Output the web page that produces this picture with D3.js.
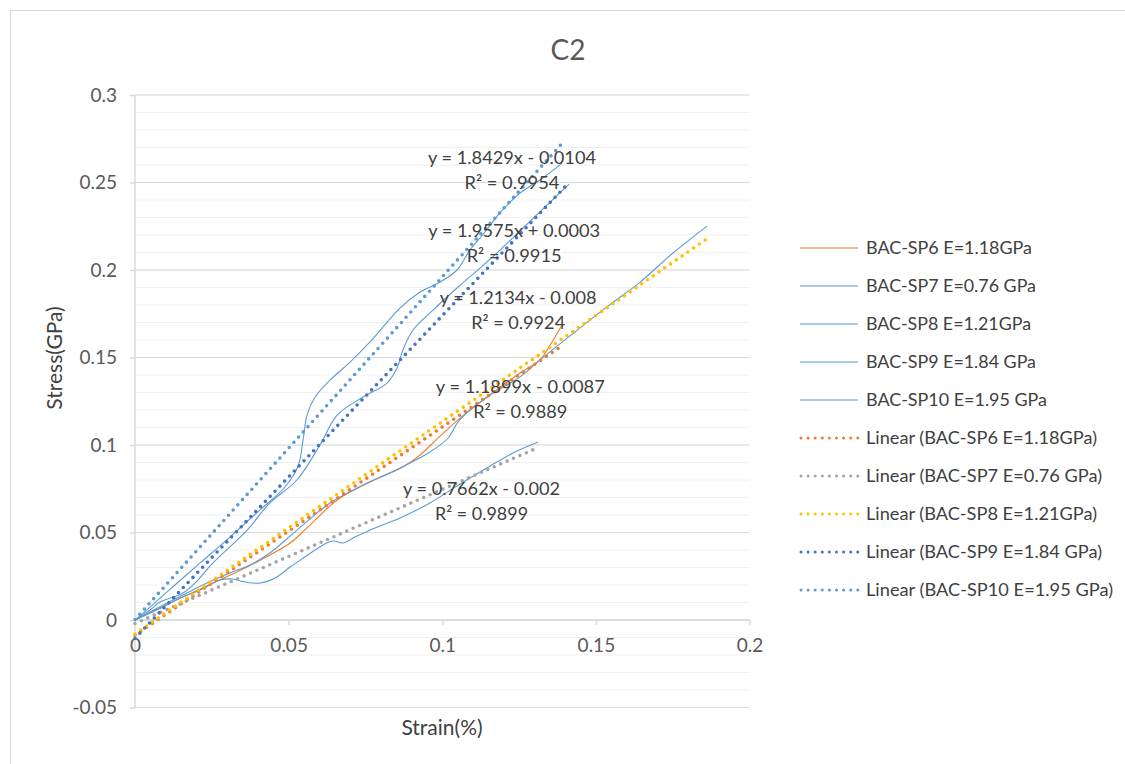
<!DOCTYPE html>
<html><head><meta charset="utf-8">
<script src="https://cdn.jsdelivr.net/npm/d3@7"></script>
<style>
html,body{margin:0;padding:0;background:#fff;}
svg text{font-family:Lato,"Open Sans",sans-serif;font-variant-numeric:tabular-nums;}
</style></head>
<body><svg id="c" width="1125" height="764"></svg>
<script>
// ---------- data ----------
const seriesNames = ["BAC-SP6 E=1.18GPa","BAC-SP7 E=0.76 GPa","BAC-SP8 E=1.21GPa","BAC-SP9 E=1.84 GPa","BAC-SP10 E=1.95 GPa"];
const sp6 = [[0,0],[0.0081,0.0069],[0.0163,0.0137],[0.0254,0.0211],[0.0365,0.0303],[0.0439,0.0371],[0.0505,0.0440],[0.0560,0.0526],[0.0658,0.0686],[0.0765,0.0789],[0.0872,0.0874],[0.0928,0.0943],[0.0993,0.1051],[0.1058,0.1154],[0.1146,0.1274],[0.1253,0.1411],[0.1318,0.1486],[0.1351,0.1571],[0.1390,0.1686]];
const sp7 = [[0,0],[0.0049,0.0040],[0.0091,0.0074],[0.0146,0.0126],[0.0212,0.0171],[0.0277,0.0229],[0.0316,0.0234],[0.0358,0.0217],[0.0407,0.0211],[0.0456,0.0240],[0.0505,0.0303],[0.0553,0.0360],[0.0612,0.0429],[0.0645,0.0451],[0.0677,0.0440],[0.0716,0.0474],[0.0781,0.0526],[0.0863,0.0583],[0.0960,0.0669],[0.1058,0.0777],[0.1156,0.0880],[0.1237,0.0960],[0.1312,0.1017]];
const sp8 = [[0,0],[0.0049,0.0046],[0.0098,0.0091],[0.0163,0.0149],[0.0234,0.0211],[0.0309,0.0269],[0.0374,0.0314],[0.0439,0.0383],[0.0527,0.0514],[0.0635,0.0669],[0.0742,0.0771],[0.0863,0.0869],[0.0960,0.0960],[0.1019,0.1040],[0.1051,0.1131],[0.1090,0.1200],[0.1156,0.1286],[0.1253,0.1389],[0.1318,0.1486],[0.1432,0.1646],[0.1536,0.1789],[0.1644,0.1931],[0.1751,0.2097],[0.1862,0.2251]];
const sp9 = [[0,0],[0.0049,0.0057],[0.0081,0.0103],[0.0124,0.0131],[0.0156,0.0154],[0.0195,0.0211],[0.0254,0.0326],[0.0365,0.0514],[0.0439,0.0669],[0.0527,0.0800],[0.0602,0.1000],[0.0658,0.1171],[0.0742,0.1274],[0.0820,0.1354],[0.0853,0.1440],[0.0872,0.1543],[0.0905,0.1657],[0.0970,0.1771],[0.1048,0.1897],[0.1123,0.2011],[0.1188,0.2114],[0.1263,0.2240],[0.1341,0.2371],[0.1413,0.2491]];
const sp10 = [[0,0],[0.0049,0.0074],[0.0130,0.0200],[0.0212,0.0326],[0.0309,0.0474],[0.0407,0.0629],[0.0488,0.0760],[0.0531,0.0880],[0.0547,0.1029],[0.0560,0.1171],[0.0586,0.1274],[0.0635,0.1371],[0.0700,0.1474],[0.0765,0.1589],[0.0863,0.1783],[0.0928,0.1874],[0.0993,0.1931],[0.1048,0.2000],[0.1090,0.2114],[0.1139,0.2217],[0.1188,0.2326],[0.1253,0.2440],[0.1318,0.2514],[0.1390,0.2611]];
const trendSlopes = [1.1899, 0.7662, 1.2134, 1.8429, 1.9575];
const trendIntercepts = [-0.0087, -0.002, -0.008, -0.0104, 0.0003];
const trendEquations = ["y = 1.1899x - 0.0087","y = 0.7662x - 0.002","y = 1.2134x - 0.008","y = 1.8429x - 0.0104","y = 1.9575x + 0.0003"];
const trendR2 = ["R² = 0.9889","R² = 0.9899","R² = 0.9924","R² = 0.9954","R² = 0.9915"];
const xTicks = [0, 0.05, 0.1, 0.15, 0.2];
const yTicks = [-0.05, 0, 0.05, 0.1, 0.15, 0.2, 0.25, 0.3];
const xTickLabels = ["0","0.05","0.1","0.15","0.2"];
const yTickLabels = ["-0.05","0","0.05","0.1","0.15","0.2","0.25","0.3"];

// ---------- layout / style ----------
const rawColors = ["#ED7D31","#5B9BD5","#5B9BD5","#5B9BD5","#5B9BD5"];
const trendColors = ["#ED7D31","#A5A5A5","#FFC000","#4472C4","#5B9BD5"];
// equation label centres (data coords) and text widths (px)
const labelPos = [[0.1254,0.1334],[0.1128,0.0748],[0.1247,0.1840],[0.1227,0.2643],[0.1234,0.2223]];
const eqWidths = [169,157,157,168,172];
const r2Widths = [94,93,94,95,95];
const legendWidths = [166,170,165,170,181,231,236,231,236,247];

const svg = d3.select("#c");
svg.append("rect").attr("x",10.5).attr("y",10.5).attr("width",1130).attr("height",770)
  .attr("fill","#fff").attr("stroke","#d9d9d9");

const x = d3.scaleLinear().domain([0,0.2]).range([135,749.5]);
const y = d3.scaleLinear().domain([-0.05,0.3]).range([707.5,95]);

// gridlines
const minor = d3.range(-0.05,0.3001,0.01).map(v=>+v.toFixed(2));
svg.append("g").selectAll("line").data(minor).join("line")
  .attr("x1",x(0)).attr("x2",x(0.2)).attr("y1",d=>y(d)).attr("y2",d=>y(d))
  .attr("stroke","#f0f0f0").attr("stroke-width",1);
svg.append("g").selectAll("line").data(yTicks).join("line")
  .attr("x1",x(0)).attr("x2",x(0.2)).attr("y1",d=>y(d)).attr("y2",d=>y(d))
  .attr("stroke","#d9d9d9").attr("stroke-width",1.2);

// axes
const yAxis = d3.axisLeft(y).tickValues(yTicks).tickFormat((d,i)=>yTickLabels[i]).tickSize(5).tickPadding(13);
const gy = svg.append("g").attr("transform",`translate(${x(0)},0)`).call(yAxis);
const xAxis = d3.axisBottom(x).tickValues(xTicks).tickFormat((d,i)=>xTickLabels[i]).tickSize(5).tickPadding(14);
const gx = svg.append("g").attr("transform",`translate(0,${y(0)})`).call(xAxis);
[gx,gy].forEach(g=>{
  g.select(".domain").attr("stroke","#d9d9d9").attr("stroke-width",1.5);
  g.selectAll(".tick line").attr("stroke","#d9d9d9").attr("stroke-width",1.5);
  g.selectAll("text").attr("fill","#595959").style("font-size","19px").style("font-family","Lato");
});
gy.select(".domain").attr("d",`M0,${y(-0.05)}V${y(0.3)}`);
gx.select(".domain").attr("d",`M${x(0)},0H${x(0.2)}`);

// raw series
const line = d3.line().x(d=>x(d[0])).y(d=>y(d[1])).curve(d3.curveCatmullRom.alpha(0.5));
const raw = [sp6,sp7,sp8,sp9,sp10];
svg.append("g").selectAll("path").data(raw).join("path")
  .attr("d",line).attr("fill","none").attr("stroke",(d,i)=>rawColors[i]).attr("stroke-width",1.1);

// trend lines
svg.append("g").selectAll("line").data(raw).join("line")
  .attr("x1",d=>x(d3.min(d,p=>p[0])))
  .attr("x2",d=>x(d3.max(d,p=>p[0])))
  .attr("y1",(d,i)=>y(trendSlopes[i]*d3.min(d,p=>p[0])+trendIntercepts[i]))
  .attr("y2",(d,i)=>y(trendSlopes[i]*d3.max(d,p=>p[0])+trendIntercepts[i]))
  .attr("stroke",(d,i)=>trendColors[i]).attr("stroke-width",3.6)
  .attr("stroke-linecap","round").attr("stroke-dasharray","0 7");

function fit(sel, w){
  const n = sel.node();
  const cur = n.getComputedTextLength();
  if (cur > 0) {
    const fs = parseFloat(sel.style("font-size"));
    sel.style("font-size", (fs * Math.sqrt(w/cur)).toFixed(2) + "px");
    sel.attr("textLength", w).attr("lengthAdjust","spacingAndGlyphs");
  }
}

// equation labels
const lab = svg.append("g").attr("fill","#404040");
trendEquations.forEach((t,i)=>{
  const cx = x(labelPos[i][0]), cy = y(labelPos[i][1]);
  const t1 = lab.append("text").attr("x",cx).attr("y",cy).attr("text-anchor","middle").attr("dy","0.35em").style("font-size","18px").text(t);
  const t2 = lab.append("text").attr("x",cx).attr("y",cy+25).attr("text-anchor","middle").attr("dy","0.35em").style("font-size","18px").text(trendR2[i]);
  fit(t1, eqWidths[i]); fit(t2, r2Widths[i]);
});

// title & axis titles
svg.append("text").attr("x",568).attr("y",50).attr("dy","0.35em").attr("text-anchor","middle")
  .attr("fill","#595959").style("font-size","28px").text("C2");
svg.append("text").attr("transform","translate(55,358) rotate(-90)").attr("text-anchor","middle").attr("dy","0.35em")
  .attr("fill","#404040").style("font-size","21px").text("Stress(GPa)");
svg.append("text").attr("x",442).attr("y",728).attr("text-anchor","middle").attr("dy","0.35em")
  .attr("fill","#404040").style("font-size","21px").text("Strain(%)");

// legend
const legendItems = seriesNames.map((n,i)=>({name:n,color:rawColors[i],dotted:false}))
  .concat(seriesNames.map((n,i)=>({name:"Linear (" + n + ")",color:trendColors[i],dotted:true})));
const lg = svg.append("g");
legendItems.forEach((it,i)=>{
  const yy = 248 + i*38;
  const l = lg.append("line").attr("x1",it.dotted?801:800).attr("x2",858).attr("y1",yy).attr("y2",yy)
    .attr("stroke",it.color);
  if(it.dotted) l.attr("stroke-width",3).attr("stroke-linecap","round").attr("stroke-dasharray","0 7.1");
  else l.attr("stroke-width",1.3).attr("stroke-opacity",0.7);
  const t = lg.append("text").attr("x",866).attr("y",yy).attr("dy","0.35em").attr("fill","#404040")
    .style("font-size","17px").text(it.name);
  fit(t, legendWidths[i]);
});
</script></body></html>
